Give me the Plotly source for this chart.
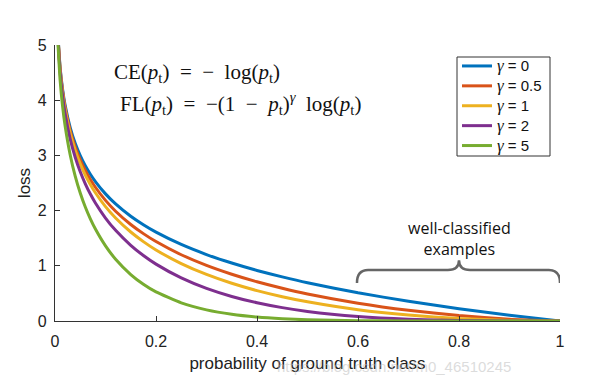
import plotly.graph_objects as go

# probability of ground truth class (x samples)
p = [0.005, 0.01, 0.015, 0.02, 0.03, 0.04, 0.05, 0.06, 0.07, 0.08, 0.1, 0.12, 0.15, 0.175,
     0.2, 0.25, 0.3, 0.35, 0.4, 0.45, 0.5, 0.6, 0.7, 0.8, 0.9, 1.0]

loss_g0 = [5.298, 4.605, 4.200, 3.912, 3.507, 3.219, 2.996, 2.813, 2.659, 2.526, 2.303, 2.120,
           1.897, 1.743, 1.609, 1.386, 1.204, 1.050, 0.916, 0.799, 0.693, 0.511, 0.357, 0.223,
           0.105, 0.0]
loss_g05 = [5.285, 4.582, 4.168, 3.873, 3.454, 3.154, 2.920, 2.727, 2.564, 2.423, 2.185, 1.989,
            1.749, 1.583, 1.439, 1.200, 1.007, 0.847, 0.710, 0.593, 0.490, 0.323, 0.195, 0.100,
            0.033, 0.0]
loss_g1 = [5.272, 4.559, 4.137, 3.834, 3.402, 3.090, 2.846, 2.644, 2.473, 2.324, 2.072, 1.866,
           1.612, 1.438, 1.287, 1.040, 0.843, 0.683, 0.550, 0.439, 0.347, 0.204, 0.107, 0.045,
           0.011, 0.0]
loss_g2 = [5.245, 4.513, 4.075, 3.757, 3.300, 2.967, 2.704, 2.486, 2.300, 2.138, 1.865, 1.642,
           1.371, 1.186, 1.030, 0.780, 0.590, 0.444, 0.330, 0.242, 0.173, 0.082, 0.032, 0.009,
           0.001, 0.0]
loss_g5 = [5.167, 4.379, 3.894, 3.536, 3.012, 2.625, 2.318, 2.064, 1.850, 1.665, 1.360, 1.119,
           0.842, 0.666, 0.527, 0.329, 0.202, 0.122, 0.071, 0.040, 0.022, 0.005, 0.001, 0.0,
           0.0, 0.0]

gamma_labels = ["0", "0.5", "1", "2", "5"]
series_values = [loss_g0, loss_g05, loss_g1, loss_g2, loss_g5]
colors = ["#0072BD", "#D95319", "#EDB120", "#7E2F8E", "#77AC30"]

x_ticks = [0, 0.2, 0.4, 0.6, 0.8, 1]
x_tick_labels = ["0", "0.2", "0.4", "0.6", "0.8", "1"]
y_ticks = [0, 1, 2, 3, 4, 5]

GAMMA = ("<span style='font-family:Liberation Serif, DejaVu Serif, serif;font-size:17px'>"
         "<i>γ</i></span>")

fig = go.Figure()
for g, vals, col in zip(gamma_labels, series_values, colors):
    fig.add_trace(go.Scatter(
        x=p, y=vals, mode="lines",
        name=f"{GAMMA}<span style='font-size:15px'> = {g}</span>",
        line=dict(color=col, width=3, shape="spline", smoothing=0.5)))

axis_font = dict(family="Liberation Sans, Arial, sans-serif", size=16, color="#222")

# the page body has an 8px margin, so the figure is 8px smaller and margins shifted
fig.update_layout(
    width=598, height=375,
    margin=dict(l=47, r=46, t=37, b=62, autoexpand=False),
    paper_bgcolor="white", plot_bgcolor="white",
    font=axis_font,
    showlegend=True,
    legend=dict(x=0.796, y=(321 - 51) / 276, xanchor="left", yanchor="top",
                borderwidth=0, bgcolor="rgba(0,0,0,0)",
                font=dict(family="Liberation Sans, Arial, sans-serif", size=13, color="#111"),
                itemwidth=30, tracegroupgap=0),
    xaxis=dict(range=[0, 1], tickvals=x_ticks, ticktext=x_tick_labels,
               showgrid=False, zeroline=False, showline=True, linecolor="#333", linewidth=1.2,
               ticks="inside", ticklen=5, tickcolor="#333", ticklabelstandoff=6,
               title=dict(text="probability of ground truth class", standoff=7,
                          font=dict(size=17, color="#222"))),
    yaxis=dict(range=[0, 5], tickvals=y_ticks,
               showgrid=False, zeroline=False, showline=True, linecolor="#333", linewidth=1.2,
               ticks="inside", ticklen=5, tickcolor="#333", ticklabelstandoff=4,
               title=dict(text="loss", standoff=2, font=dict(size=17, color="#222"))),
)

# legend frame
fig.add_shape(type="rect", xref="paper", yref="paper",
              x0=(457 - 55) / 505, x1=(550 - 55) / 505,
              y0=(321 - 156) / 276, y1=(321 - 57) / 276,
              line=dict(color="#333", width=1), fillcolor="rgba(0,0,0,0)", layer="below")

serif = dict(family="Liberation Serif, DejaVu Serif, serif", size=21, color="#111")
SP = "\u2002"
fig.add_annotation(xref="paper", yref="paper", x=(112 - 55) / 505, y=(321 - 73) / 276,
                   xanchor="left", yanchor="middle", showarrow=False, font=serif,
                   text=f"CE(<i>p</i><sub>t</sub>){SP}={SP}−{SP}log(<i>p</i><sub>t</sub>)")
fig.add_annotation(xref="paper", yref="paper", x=(118 - 55) / 505, y=(321 - 104) / 276,
                   xanchor="left", yanchor="middle", showarrow=False, font=serif,
                   text=(f"FL(<i>p</i><sub>t</sub>){SP}={SP}−(1{SP}−{SP}<i>p</i><sub>t</sub>)"
                         f"<sup><i>γ</i></sup>{SP}log(<i>p</i><sub>t</sub>)"))

# brace over well-classified examples
brace = ("M 0.598,0.69 Q 0.598,0.924 0.62,0.924 L 0.778,0.924 "
         "Q 0.8,0.924 0.8,1.10 Q 0.8,0.924 0.822,0.924 L 0.978,0.924 "
         "Q 1.0,0.924 1.0,0.69")
fig.add_shape(type="path", path=brace, xref="x", yref="y",
              line=dict(color="#666", width=2.5))
fig.add_annotation(xref="x", yref="y", x=0.8, y=1.50, showarrow=False,
                   text="well-classified<br>examples",
                   font=dict(family="Open Sans, Lato, sans-serif", size=16, color="#111"))

# faint watermark
fig.add_annotation(xref="paper", yref="paper", x=(513 - 55) / 505, y=-(366 - 321) / 276,
                   xanchor="right", yanchor="middle", showarrow=False,
                   text="https://blog.csdn.net/m0_46510245",
                   font=dict(family="Liberation Sans, Arial, sans-serif", size=15,
                             color="rgba(190,190,190,0.55)"))

fig.write_html("out.html")
